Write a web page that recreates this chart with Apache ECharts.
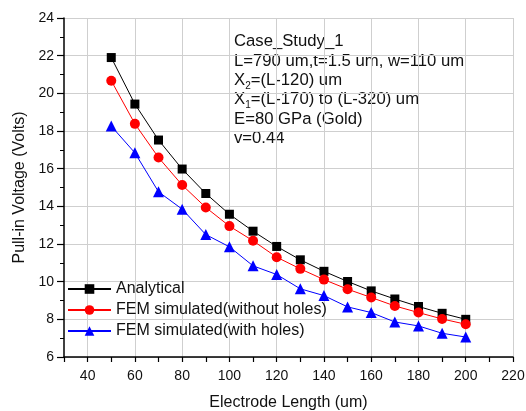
<!DOCTYPE html>
<html><head><meta charset="utf-8">
<script src="https://cdn.jsdelivr.net/npm/echarts@6/dist/echarts.min.js"></script>
<style>html,body{margin:0;padding:0;background:#fff}#c{width:526px;height:411px}</style>
</head><body><div id="c"></div>
<script>
const lengths = [50,60,70,80,90,100,110,120,130,140,150,160,170,180,190,200];
const analytical = [21.9,19.43,17.52,15.98,14.68,13.58,12.68,11.87,11.16,10.55,10.01,9.51,9.08,8.68,8.32,8.0];
const femNoHoles = [20.67,18.38,16.59,15.13,13.94,12.95,12.17,11.3,10.68,10.11,9.6,9.16,8.71,8.36,8.02,7.74];
const femHoles = [18.26,16.84,14.77,13.85,12.5,11.85,10.84,10.38,9.62,9.26,8.66,8.36,7.86,7.65,7.26,7.06];
const xTickLabels = [40,60,80,100,120,140,160,180,200,220];
const seriesNames = ['Analytical','FEM simulated(without holes)','FEM simulated(with holes)'];
const annotationLines = [
  'Case_Study_1',
  'L=790 um,t=1.5 um, w=110 um',
  'X{sub|2}=(L-120) um',
  'X{sub|1}=(L-170) to (L-320) um',
  'E=80 GPa (Gold)',
  'v=0.44'
];
const FONT = 'Liberation Sans, Arial, sans-serif';
const chart = echarts.init(document.getElementById('c'), null, {renderer:'canvas'});
function pairs(vals){ return lengths.map((x,i)=>[x, vals[i]]); }
const axisLineStyle = {show:true, onZero:false, lineStyle:{color:'#000', width:1.5}};
const labelStyle = {color:'#111', fontFamily:FONT, fontSize:14};
const gridColor = '#cfcfcf';
chart.setOption({
  animation:false,
  backgroundColor:'#fff',
  textStyle:{fontFamily:FONT},
  grid:{left:64, right:13, top:18, bottom:54, containLabel:false, outerBoundsMode:'none'},
  xAxis:[{
    type:'value', min:30, max:220, interval:10,
    axisLine:axisLineStyle,
    axisTick:{show:true, length:5, lineStyle:{color:'#000', width:1.2}},
    splitLine:{show:false},
    axisLabel:Object.assign({}, labelStyle, {margin:12,
      formatter:v => xTickLabels.indexOf(v) >= 0 ? String(v) : ''}),
    name:'Electrode Length (um)', nameLocation:'middle', nameGap:38,
    nameTextStyle:{color:'#111', fontFamily:FONT, fontSize:16}
  },{
    type:'value', min:30, max:220, position:'bottom',
    axisLine:{show:false}, axisLabel:{show:false},
    axisTick:{show:false, customValues:xTickLabels},
    splitLine:{show:true, lineStyle:{color:gridColor, width:1}}
  }],
  yAxis:{
    type:'value', min:6, max:24, interval:2,
    axisLine:axisLineStyle,
    axisTick:{show:true, length:7, lineStyle:{color:'#000', width:1.2}},
    minorTick:{show:true, splitNumber:2, length:4, lineStyle:{color:'#000', width:1}},
    splitLine:{show:true, lineStyle:{color:gridColor, width:1}},
    axisLabel:Object.assign({}, labelStyle, {margin:10}),
    name:'Pull-in Voltage (Volts)', nameLocation:'middle', nameGap:35,
    nameTextStyle:{color:'#111', fontFamily:FONT, fontSize:16}
  },
  legend:{
    orient:'vertical', left:67, top:281, padding:0, itemWidth:43, itemHeight:12, itemGap:5,
    textStyle:{color:'#111', fontFamily:FONT, fontSize:16},
    data:seriesNames
  },
  series:[
    {name:seriesNames[0], type:'line', data:pairs(analytical), symbol:'rect', symbolSize:9,
     itemStyle:{color:'#000'}, lineStyle:{color:'#000', width:1}},
    {name:seriesNames[1], type:'line', data:pairs(femNoHoles), symbol:'circle', symbolSize:10,
     itemStyle:{color:'#ff0000'}, lineStyle:{color:'#ff0000', width:1}},
    {name:seriesNames[2], type:'line', data:pairs(femHoles), symbol:'triangle', symbolSize:11,
     itemStyle:{color:'#0000ff'}, lineStyle:{color:'#0000ff', width:1}}
  ],
  graphic:annotationLines.map((t,i)=>({
    type:'text', left:234, top:33 + i*19.4,
    style:{text:t, fill:'#111', font:'16.7px '+FONT,
      rich:{sub:{fontSize:10, fontFamily:FONT, fill:'#111', padding:[11,0,0,0]}}}
  }))
});
</script></body></html>
